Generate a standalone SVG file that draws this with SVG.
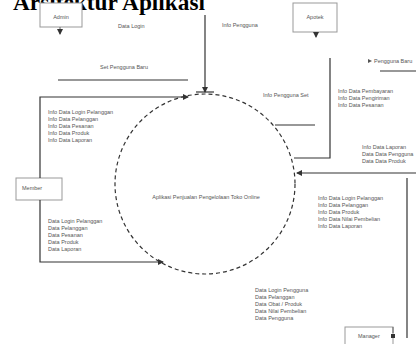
<svg xmlns="http://www.w3.org/2000/svg" width="416" height="344" viewBox="0 0 416 344">
<defs>
<style>
.t{font-family:"Liberation Sans",Arial,sans-serif;font-size:5.5px;fill:#555}
.c{text-anchor:middle}
.box{fill:#fff;stroke:#999;stroke-width:1}
.ln{fill:none;stroke:#333;stroke-width:1.2}
.lt{fill:none;stroke:#666;stroke-width:1}
</style>
<marker id="ah" markerWidth="6" markerHeight="6" refX="5" refY="3" orient="auto" markerUnits="userSpaceOnUse">
<path d="M0,0 L6,3 L0,6 z" fill="#333"/>
</marker>
</defs>
<rect width="416" height="344" fill="#fff"/>
<text x="13" y="10" font-family="Liberation Serif,serif" font-weight="bold" font-size="24" textLength="192" lengthAdjust="spacingAndGlyphs" fill="#000">Arsitektur Aplikasi</text>

<g id="admin">
<rect class="box" x="40" y="3" width="42" height="24"/>
<text class="t c" x="61" y="19">Admin</text>
</g>
<g id="apotek">
<rect class="box" x="293" y="3" width="44" height="29"/>
<text class="t c" x="315" y="19">Apotek</text>
</g>
<g id="member">
<rect class="box" x="16" y="178" width="46" height="22"/>
<text class="t" x="22" y="190">Member</text>
</g>
<g id="manager">
<rect class="box" x="345" y="327" width="48" height="20"/>
<text class="t" x="358" y="338">Manager</text>
<rect x="391" y="334" width="4" height="4" fill="#333"/>
</g>
<g id="process">
<circle cx="205" cy="184" r="90" fill="none" stroke="#333" stroke-width="1.2" stroke-dasharray="4,3"/>
<text class="t c" x="206" y="199">Aplikasi Penjualan Pengelolaan Toko Online</text>
</g>

<g id="connectors">
<line class="lt" x1="60" y1="27" x2="60" y2="34" marker-end="url(#ah)"/>
<line class="lt" x1="316" y1="32" x2="316" y2="37" marker-end="url(#ah)"/>
<line class="ln" x1="205" y1="15" x2="205" y2="92" marker-end="url(#ah)"/>
<line class="ln" x1="196" y1="92" x2="214" y2="92"/>
<line class="ln" x1="58" y1="80" x2="188" y2="80"/>
<polyline class="ln" points="40,178 40,97 188,97" marker-end="url(#ah)"/>
<polyline class="ln" points="40,200 40,262 163,262" marker-end="url(#ah)"/>
<polyline class="ln" points="330,58 330,158 294,158"/>
<line class="ln" x1="275" y1="125" x2="315" y2="125"/>
<line class="ln" x1="380" y1="71" x2="416" y2="71"/>
<line class="ln" x1="416" y1="173" x2="297" y2="173" marker-end="url(#ah)"/>
<line class="ln" x1="407" y1="178" x2="407" y2="338"/>
<line class="lt" x1="393" y1="327" x2="393" y2="333"/>
<path d="M368,59 L372,61 L368,63 z" fill="#555"/>
</g>

<g id="labels">
<text class="t" x="118" y="28">Data Login</text>
<text class="t" x="222" y="27">Info Pengguna</text>
<text class="t" x="100" y="69">Set Pengguna Baru</text>
<text class="t" x="263" y="97">Info Pengguna Set</text>
<text class="t" x="374" y="63" font-size="5">Pengguna Baru</text>
<text class="t" x="48" y="114">Info Data Login Pelanggan</text>
<text class="t" x="48" y="121">Info Data Pelanggan</text>
<text class="t" x="48" y="128">Info Data Pesanan</text>
<text class="t" x="48" y="135">Info Data Produk</text>
<text class="t" x="48" y="142">Info Data Laporan</text>
<text class="t" x="48" y="223">Data Login Pelanggan</text>
<text class="t" x="48" y="230">Data Pelanggan</text>
<text class="t" x="48" y="237">Data Pesanan</text>
<text class="t" x="48" y="244">Data Produk</text>
<text class="t" x="48" y="251">Data Laporan</text>
<text class="t" x="338" y="93">Info Data Pembayaran</text>
<text class="t" x="338" y="100">Info Data Pengiriman</text>
<text class="t" x="338" y="107">Info Data Pesanan</text>
<text class="t" x="362" y="149">Info Data Laporan</text>
<text class="t" x="362" y="156">Data Data Pengguna</text>
<text class="t" x="362" y="163">Data Data Produk</text>
<text class="t" x="318" y="200">Info Data Login Pelanggan</text>
<text class="t" x="318" y="207">Info Data Pelanggan</text>
<text class="t" x="318" y="214">Info Data Produk</text>
<text class="t" x="318" y="221">Info Data Nilai Pembelian</text>
<text class="t" x="318" y="228">Info Data Laporan</text>
<text class="t" x="255" y="292">Data Login Pengguna</text>
<text class="t" x="255" y="299">Data Pelanggan</text>
<text class="t" x="255" y="306">Data Obat / Produk</text>
<text class="t" x="255" y="313">Data Nilai Pembelian</text>
<text class="t" x="255" y="320">Data Pengguna</text>
</g>
</svg>
